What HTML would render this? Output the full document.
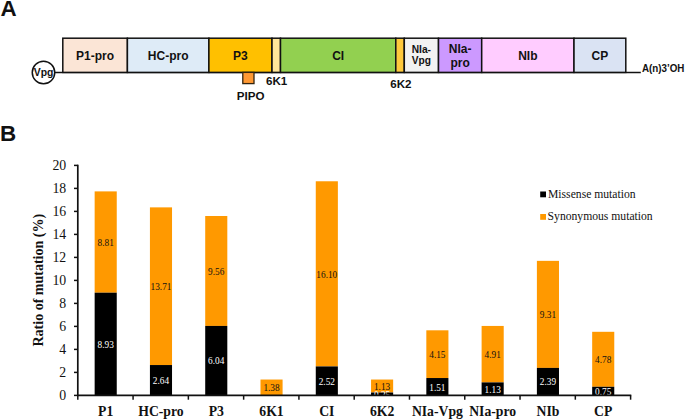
<!DOCTYPE html>
<html><head><meta charset="utf-8"><title>Figure</title>
<style>html,body{margin:0;padding:0;background:#fff}svg{display:block}</style></head>
<body>
<svg width="685" height="420" viewBox="0 0 685 420">
<rect width="685" height="420" fill="#fff"/>
<g font-family="'Liberation Sans', sans-serif" font-weight="bold" fill="#111">
<text x="0.6" y="16.0" font-size="22.4">A</text>
<text x="0.0" y="141.0" font-size="22.4">B</text>
<line x1="54" y1="72.4" x2="640.8" y2="72.4" stroke="#111" stroke-width="1.5"/>
<rect x="62.8" y="38.2" width="64.6" height="34.2" fill="#FBE5D6" stroke="#111" stroke-width="1.5"/>
<text x="95.1" y="59.6" font-size="12" text-anchor="middle">P1-pro</text>
<rect x="127.4" y="38.2" width="81.5" height="34.2" fill="#DEEBF7" stroke="#111" stroke-width="1.5"/>
<text x="168.15" y="59.6" font-size="12" text-anchor="middle">HC-pro</text>
<rect x="208.9" y="38.2" width="63.1" height="34.2" fill="#FFC000" stroke="#111" stroke-width="1.5"/>
<text x="240.45" y="59.6" font-size="12" text-anchor="middle">P3</text>
<rect x="272.0" y="38.2" width="8.5" height="34.2" fill="#FFE699" stroke="#111" stroke-width="1.5"/>
<rect x="280.5" y="38.2" width="115.3" height="34.2" fill="#92D050" stroke="#111" stroke-width="1.5"/>
<text x="338.15" y="59.6" font-size="12" text-anchor="middle">CI</text>
<rect x="395.8" y="38.2" width="8.5" height="34.2" fill="#FFC93C" stroke="#111" stroke-width="1.5"/>
<rect x="404.3" y="38.2" width="34.2" height="34.2" fill="#F2F2F2" stroke="#111" stroke-width="1.5"/>
<text x="421.4" y="52.7" font-size="10.2" text-anchor="middle">NIa-</text>
<text x="421.4" y="64.2" font-size="10.2" text-anchor="middle">Vpg</text>
<rect x="438.5" y="38.2" width="43.2" height="34.2" fill="#CC99FF" stroke="#111" stroke-width="1.5"/>
<text x="460.1" y="52.7" font-size="12" text-anchor="middle">NIa-</text>
<text x="460.1" y="67.0" font-size="12" text-anchor="middle">pro</text>
<rect x="481.7" y="38.2" width="92.3" height="34.2" fill="#FFCCFF" stroke="#111" stroke-width="1.5"/>
<text x="527.85" y="59.6" font-size="12" text-anchor="middle">NIb</text>
<rect x="574.0" y="38.2" width="51.8" height="34.2" fill="#DAE3F3" stroke="#111" stroke-width="1.5"/>
<text x="599.9" y="59.6" font-size="12" text-anchor="middle">CP</text>
<circle cx="43.5" cy="72.5" r="11.25" fill="#fff" stroke="#111" stroke-width="1.5"/>
<text x="43.6" y="75.7" font-size="10.4" text-anchor="middle">Vpg</text>
<rect x="242.8" y="72.4" width="11.2" height="11.2" fill="#FF9933" stroke="#33240f" stroke-width="1.3"/>
<text x="250.6" y="100.4" font-size="11.6" text-anchor="middle">PIPO</text>
<text x="276.7" y="84.8" font-size="11.6" text-anchor="middle">6K1</text>
<text x="400.9" y="88.3" font-size="11.6" text-anchor="middle">6K2</text>
<text x="642.0" y="72.2" font-size="10.3" textLength="42.4" lengthAdjust="spacingAndGlyphs">A(n)3’OH</text>
</g>
<g font-family="'Liberation Serif', serif">
<rect x="94.65" y="191.39" width="22.1" height="101.32" fill="#FF9900"/>
<rect x="94.65" y="292.70" width="22.1" height="102.69" fill="#000"/>
<text x="105.70" y="245.85" font-size="9.3" text-anchor="middle" fill="#111">8.81</text>
<text x="105.70" y="347.85" font-size="9.3" text-anchor="middle" fill="#fff">8.93</text>
<text x="105.70" y="415.5" font-size="13.7" font-weight="bold" text-anchor="middle" fill="#111">P1</text>
<rect x="149.93" y="207.37" width="22.1" height="157.67" fill="#FF9900"/>
<rect x="149.93" y="365.04" width="22.1" height="30.36" fill="#000"/>
<text x="160.98" y="290.01" font-size="9.3" text-anchor="middle" fill="#111">13.71</text>
<text x="160.98" y="384.02" font-size="9.3" text-anchor="middle" fill="#fff">2.64</text>
<text x="160.98" y="415.5" font-size="13.7" font-weight="bold" text-anchor="middle" fill="#111">HC-pro</text>
<rect x="205.21" y="216.00" width="22.1" height="109.94" fill="#FF9900"/>
<rect x="205.21" y="325.94" width="22.1" height="69.46" fill="#000"/>
<text x="216.26" y="274.77" font-size="9.3" text-anchor="middle" fill="#111">9.56</text>
<text x="216.26" y="364.47" font-size="9.3" text-anchor="middle" fill="#fff">6.04</text>
<text x="216.26" y="415.5" font-size="13.7" font-weight="bold" text-anchor="middle" fill="#111">P3</text>
<rect x="260.49" y="379.53" width="22.1" height="15.87" fill="#FF9900"/>
<text x="271.54" y="391.26" font-size="9.3" text-anchor="middle" fill="#111">1.38</text>
<text x="271.54" y="415.5" font-size="13.7" font-weight="bold" text-anchor="middle" fill="#111">6K1</text>
<rect x="315.77" y="181.27" width="22.1" height="185.15" fill="#FF9900"/>
<rect x="315.77" y="366.42" width="22.1" height="28.98" fill="#000"/>
<text x="326.82" y="277.64" font-size="9.3" text-anchor="middle" fill="#111">16.10</text>
<text x="326.82" y="384.71" font-size="9.3" text-anchor="middle" fill="#fff">2.52</text>
<text x="326.82" y="415.5" font-size="13.7" font-weight="bold" text-anchor="middle" fill="#111">CI</text>
<rect x="371.05" y="379.53" width="22.1" height="12.99" fill="#FF9900"/>
<rect x="371.05" y="392.52" width="22.1" height="2.88" fill="#000"/>
<text x="382.10" y="389.83" font-size="9.3" text-anchor="middle" fill="#111">1.13</text>
<text x="382.10" y="397.76" font-size="9.3" text-anchor="middle" fill="#fff">0.25</text>
<text x="382.10" y="415.5" font-size="13.7" font-weight="bold" text-anchor="middle" fill="#111">6K2</text>
<rect x="426.33" y="330.31" width="22.1" height="47.73" fill="#FF9900"/>
<rect x="426.33" y="378.03" width="22.1" height="17.36" fill="#000"/>
<text x="437.38" y="357.97" font-size="9.3" text-anchor="middle" fill="#111">4.15</text>
<text x="437.38" y="390.52" font-size="9.3" text-anchor="middle" fill="#fff">1.51</text>
<text x="437.38" y="415.5" font-size="13.7" font-weight="bold" text-anchor="middle" fill="#111">NIa-Vpg</text>
<rect x="481.61" y="325.94" width="22.1" height="56.47" fill="#FF9900"/>
<rect x="481.61" y="382.40" width="22.1" height="12.99" fill="#000"/>
<text x="492.66" y="357.97" font-size="9.3" text-anchor="middle" fill="#111">4.91</text>
<text x="492.66" y="392.70" font-size="9.3" text-anchor="middle" fill="#fff">1.13</text>
<text x="492.66" y="415.5" font-size="13.7" font-weight="bold" text-anchor="middle" fill="#111">NIa-pro</text>
<rect x="536.89" y="260.85" width="22.1" height="107.07" fill="#FF9900"/>
<rect x="536.89" y="367.91" width="22.1" height="27.49" fill="#000"/>
<text x="547.94" y="318.18" font-size="9.3" text-anchor="middle" fill="#111">9.31</text>
<text x="547.94" y="385.46" font-size="9.3" text-anchor="middle" fill="#fff">2.39</text>
<text x="547.94" y="415.5" font-size="13.7" font-weight="bold" text-anchor="middle" fill="#111">NIb</text>
<rect x="592.17" y="331.80" width="22.1" height="54.97" fill="#FF9900"/>
<rect x="592.17" y="386.77" width="22.1" height="8.62" fill="#000"/>
<text x="603.22" y="363.09" font-size="9.3" text-anchor="middle" fill="#111">4.78</text>
<text x="603.22" y="394.89" font-size="9.3" text-anchor="middle" fill="#fff">0.75</text>
<text x="603.22" y="415.5" font-size="13.7" font-weight="bold" text-anchor="middle" fill="#111">CP</text>
<line x1="77.8" y1="164.7" x2="77.8" y2="396.09999999999997" stroke="#111" stroke-width="1.7"/>
<line x1="77.1" y1="395.4" x2="631.3" y2="395.4" stroke="#111" stroke-width="1.7"/>
<line x1="74.0" y1="395.40" x2="77.8" y2="395.40" stroke="#111" stroke-width="1.5"/>
<text x="66.2" y="400.00" font-size="13.8" text-anchor="end" fill="#111">0</text>
<line x1="74.0" y1="372.40" x2="77.8" y2="372.40" stroke="#111" stroke-width="1.5"/>
<text x="66.2" y="377.00" font-size="13.8" text-anchor="end" fill="#111">2</text>
<line x1="74.0" y1="349.40" x2="77.8" y2="349.40" stroke="#111" stroke-width="1.5"/>
<text x="66.2" y="354.00" font-size="13.8" text-anchor="end" fill="#111">4</text>
<line x1="74.0" y1="326.40" x2="77.8" y2="326.40" stroke="#111" stroke-width="1.5"/>
<text x="66.2" y="331.00" font-size="13.8" text-anchor="end" fill="#111">6</text>
<line x1="74.0" y1="303.40" x2="77.8" y2="303.40" stroke="#111" stroke-width="1.5"/>
<text x="66.2" y="308.00" font-size="13.8" text-anchor="end" fill="#111">8</text>
<line x1="74.0" y1="280.40" x2="77.8" y2="280.40" stroke="#111" stroke-width="1.5"/>
<text x="66.2" y="285.00" font-size="13.8" text-anchor="end" fill="#111">10</text>
<line x1="74.0" y1="257.40" x2="77.8" y2="257.40" stroke="#111" stroke-width="1.5"/>
<text x="66.2" y="262.00" font-size="13.8" text-anchor="end" fill="#111">12</text>
<line x1="74.0" y1="234.40" x2="77.8" y2="234.40" stroke="#111" stroke-width="1.5"/>
<text x="66.2" y="239.00" font-size="13.8" text-anchor="end" fill="#111">14</text>
<line x1="74.0" y1="211.40" x2="77.8" y2="211.40" stroke="#111" stroke-width="1.5"/>
<text x="66.2" y="216.00" font-size="13.8" text-anchor="end" fill="#111">16</text>
<line x1="74.0" y1="188.40" x2="77.8" y2="188.40" stroke="#111" stroke-width="1.5"/>
<text x="66.2" y="193.00" font-size="13.8" text-anchor="end" fill="#111">18</text>
<line x1="74.0" y1="165.40" x2="77.8" y2="165.40" stroke="#111" stroke-width="1.5"/>
<text x="66.2" y="170.00" font-size="13.8" text-anchor="end" fill="#111">20</text>
<line x1="77.80" y1="395.4" x2="77.80" y2="399.7" stroke="#111" stroke-width="1.5"/>
<line x1="133.08" y1="395.4" x2="133.08" y2="399.7" stroke="#111" stroke-width="1.5"/>
<line x1="188.36" y1="395.4" x2="188.36" y2="399.7" stroke="#111" stroke-width="1.5"/>
<line x1="243.64" y1="395.4" x2="243.64" y2="399.7" stroke="#111" stroke-width="1.5"/>
<line x1="298.92" y1="395.4" x2="298.92" y2="399.7" stroke="#111" stroke-width="1.5"/>
<line x1="354.20" y1="395.4" x2="354.20" y2="399.7" stroke="#111" stroke-width="1.5"/>
<line x1="409.48" y1="395.4" x2="409.48" y2="399.7" stroke="#111" stroke-width="1.5"/>
<line x1="464.76" y1="395.4" x2="464.76" y2="399.7" stroke="#111" stroke-width="1.5"/>
<line x1="520.04" y1="395.4" x2="520.04" y2="399.7" stroke="#111" stroke-width="1.5"/>
<line x1="575.32" y1="395.4" x2="575.32" y2="399.7" stroke="#111" stroke-width="1.5"/>
<line x1="630.60" y1="395.4" x2="630.60" y2="399.7" stroke="#111" stroke-width="1.5"/>
<text transform="translate(43.2,280.2) rotate(-90)" font-size="14" font-weight="bold" text-anchor="middle" fill="#111">Ratio of mutation (%)</text>
<rect x="540.2" y="191.5" width="5.8" height="5.8" fill="#000"/>
<rect x="540.2" y="214.0" width="5.8" height="5.8" fill="#FF9900"/>
<text x="548.0" y="197.6" font-size="11.65" fill="#111">Missense mutation</text>
<text x="547.6" y="220.3" font-size="11.65" fill="#111">Synonymous mutation</text>
</g>
</svg>
</body></html>
